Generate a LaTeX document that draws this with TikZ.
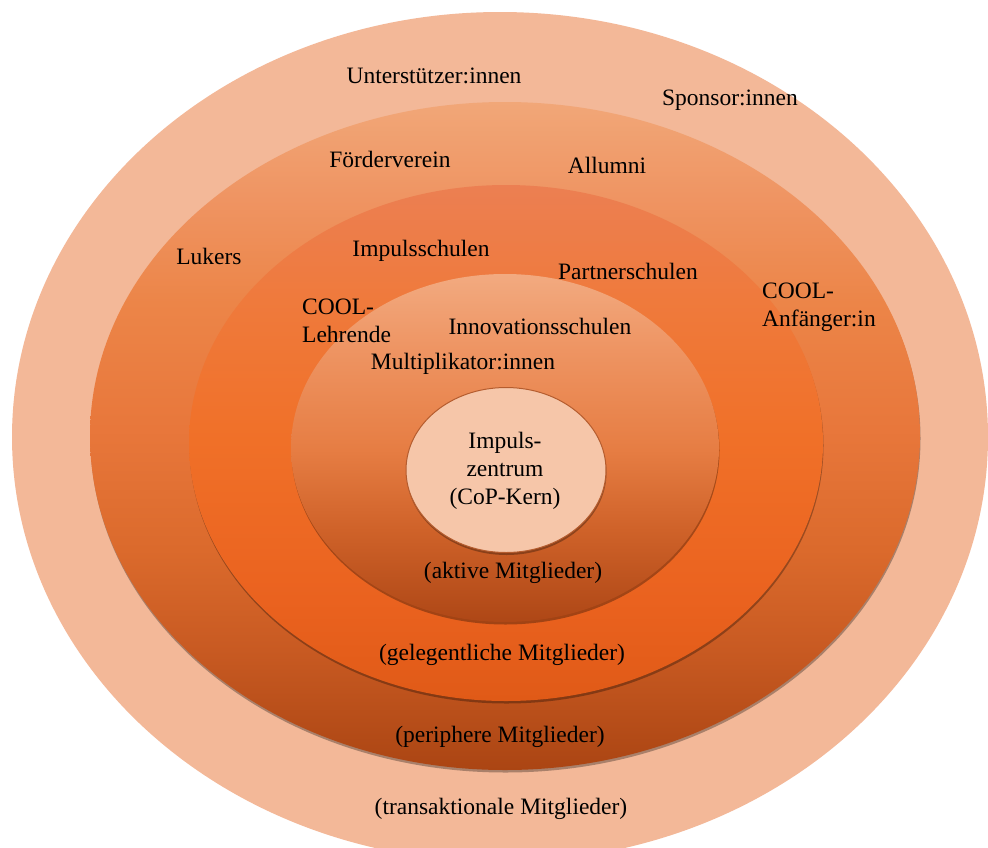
\documentclass[tikz,border=0pt]{standalone}
\usepackage{fontspec}
\setmainfont{Liberation Serif}
\usetikzlibrary{shapes.geometric,shadows}
\definecolor{outerC}{HTML}{F3B898}
\definecolor{twoA}{HTML}{AB4513}
\definecolor{twoB}{HTML}{C85A22}
\definecolor{twoC}{HTML}{DB6A2C}
\definecolor{twoD}{HTML}{E8773B}
\definecolor{twoE}{HTML}{EC8548}
\definecolor{twoF}{HTML}{EF9462}
\definecolor{twoG}{HTML}{F1A778}
\definecolor{threeA}{HTML}{E05A17}
\definecolor{threeB}{HTML}{EA621F}
\definecolor{threeC}{HTML}{F07028}
\definecolor{threeD}{HTML}{EF7A3C}
\definecolor{threeE}{HTML}{EC7F52}
\definecolor{fourA}{HTML}{AE4716}
\definecolor{fourB}{HTML}{CF6229}
\definecolor{fourC}{HTML}{E67D43}
\definecolor{fourD}{HTML}{EE9462}
\definecolor{fourE}{HTML}{F2AA80}
\definecolor{coreC}{HTML}{F6C6A9}
\definecolor{coreEdge}{HTML}{B55C2E}
\pgfdeclareverticalshading{ringtwo}{100bp}{color(0bp)=(twoA); color(25bp)=(twoA); color(34bp)=(twoB); color(41.5bp)=(twoC); color(50.5bp)=(twoD); color(60bp)=(twoE); color(67.7bp)=(twoF); color(75bp)=(twoG); color(100bp)=(twoG)}
\pgfdeclareverticalshading{ringthree}{100bp}{color(0bp)=(threeA); color(25bp)=(threeA); color(34.8bp)=(threeB); color(50.3bp)=(threeC); color(63.8bp)=(threeD); color(75bp)=(threeE); color(100bp)=(threeE)}
\pgfdeclareverticalshading{ringfour}{100bp}{color(0bp)=(fourA); color(25bp)=(fourA); color(38.2bp)=(fourB); color(49.7bp)=(fourC); color(64bp)=(fourD); color(75bp)=(fourE); color(100bp)=(fourE)}
\begin{document}
\begin{tikzpicture}[x=1pt,y=-1pt,
  ring/.style={ellipse, inner sep=0pt, draw=none},
  shad/.style={drop shadow={shadow xshift=0.5pt, shadow yshift=-2.5pt, opacity=0.3, fill=black}},
  lbl/.style={font=\fontsize{23.5}{28}\selectfont, inner sep=0pt, align=center, text=black}]
\clip (0,0) rectangle (988,847);
\fill[white] (0,0) rectangle (988,847);
\node[ring, fill=outerC, minimum width=976pt, minimum height=850pt] (r1) at (500,437) {};
\node[ring, shad, shading=ringtwo, minimum width=830pt, minimum height=668pt] (r2) at (505,436) {};
\node[ring, shad, shading=ringthree, minimum width=634pt, minimum height=516pt] (r3) at (506,443) {};
\node[ring, shad, shading=ringfour, minimum width=428pt, minimum height=348pt] (r4) at (505,448) {};
\node[ring, shad, fill=coreC, draw=coreEdge, line width=1pt, minimum width=200pt, minimum height=165pt] (core) at (506,470) {};

\node[lbl] (t1) at (434,76) {Unterstützer:innen};
\node[lbl] (t2) at (730,100) {Sponsor:innen};
\node[lbl] (t3) at (390,159) {Förderverein};
\node[lbl] (t4) at (607,165) {Allumni};
\node[lbl] (t5) at (209,256) {Lukers};
\node[lbl] (t6) at (421,251) {Impulsschulen};
\node[lbl] (t7) at (628,271) {Partnerschulen};
\node[lbl, align=left, anchor=west] (t8) at (302,321) {COOL-\\Lehrende};
\node[lbl, align=left, anchor=west] (t9) at (762,307) {COOL-\\Anfänger:in};
\node[lbl] (t10) at (540,326) {Innovationsschulen};
\node[lbl] (t11) at (463,364) {Multiplikator:innen};
\node[lbl] (t12) at (505,471) {Impuls-\\zentrum\\(CoP-Kern)};
\node[lbl] (t13) at (513,573) {(aktive Mitglieder)};
\node[lbl] (t14) at (502,655) {(gelegentliche Mitglieder)};
\node[lbl] (t15) at (500,737) {(periphere Mitglieder)};
\node[lbl] (t16) at (501,809) {(transaktionale Mitglieder)};
\end{tikzpicture}
\end{document}
